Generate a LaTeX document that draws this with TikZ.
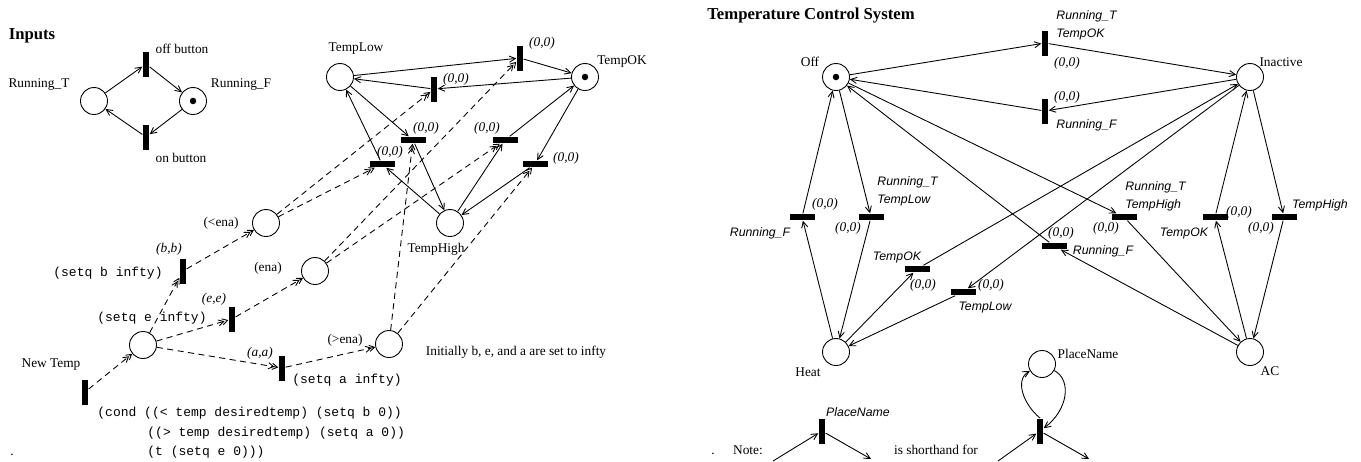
\documentclass[tikz,border=0pt]{standalone}
\usepackage{fontspec}
\setmainfont{Liberation Serif}
\setsansfont{Liberation Sans}
\setmonofont{Liberation Mono}
\usetikzlibrary{arrows.meta}

\begin{document}
\begin{tikzpicture}[x=0.02cm,y=-0.02cm,line width=0.5pt,
	place/.style={circle,draw,minimum size=0.54cm,inner sep=0pt},
	marked/.style={place,path picture={\fill (path picture bounding box.center) circle (0.065cm);}},
	vtrans/.style={rectangle,fill,minimum width=0.13cm,minimum height=0.5cm,inner sep=0pt},
	htrans/.style={rectangle,fill,minimum width=0.5cm,minimum height=0.13cm,inner sep=0pt},
	lbl/.style={inner sep=0pt,font=\fontsize{7.6}{9}\selectfont},
	ttl/.style={inner sep=0pt,font=\fontsize{9.5}{11}\selectfont\bfseries},
	wt/.style={inner sep=0pt,font=\fontsize{7.6}{9}\selectfont\itshape},
	grd/.style={inner sep=0pt,align=left,font=\fontsize{7}{10.2}\selectfont\sffamily\itshape},
	code/.style={inner sep=0pt,font=\fontsize{7.4}{9}\selectfont\ttfamily},
	pnarc/.style={-{Straight Barb[length=3.5pt,width=3.5pt]}},
	enarc/.style={dash pattern=on 3.5pt off 2.5pt,-{Straight Barb[length=3pt,width=3.5pt,sep=-1.5pt]Straight Barb[length=3pt,width=3.5pt]}}]
			\useasboundingbox (0,0) rectangle (1361,461);
			\node[ttl] (ttlA) at (32,36) {Inputs};
			\node[place] (pRunT) at (94,101) {};
			\node[lbl] (lRunT) at (39,85) {Running\_T};
			\node[marked] (pRunF) at (193,101) {};
			\node[lbl] (lRunF) at (241,85) {Running\_F};
			\node[vtrans] (tOffB) at (146,64) {};
			\node[lbl] (lOffB) at (182,49) {off button};
			\node[vtrans] (tOnB) at (146,137) {};
			\node[lbl] (lOnB) at (181,158) {on button};
			\draw[pnarc] (pRunT) -- (tOffB);
			\draw[pnarc] (tOffB) -- (pRunF);
			\draw[pnarc] (pRunF) -- (tOnB);
			\draw[pnarc] (tOnB) -- (pRunT);
			\node[place] (pLow) at (340,77) {};
			\node[lbl] (lLow) at (356,49) {TempLow};
			\node[marked] (pOK) at (585,77) {};
			\node[lbl] (lOK) at (622,61) {TempOK};
			\node[place] (pHigh) at (450,223) {};
			\node[lbl] (lHigh) at (436,249) {TempHigh};
			\node[vtrans] (t1) at (520,58) {};
			\node[wt] (w1) at (542,43) {(0,0)};
			\node[vtrans] (t2) at (434,89) {};
			\node[wt] (w2) at (456,79) {(0,0)};
			\node[htrans] (t3) at (413,140) {};
			\node[wt] (w3) at (426,128) {(0,0)};
			\node[htrans] (t4) at (382,164) {};
			\node[wt] (w4) at (390,152) {(0,0)};
			\node[htrans] (t5) at (505,140) {};
			\node[wt] (w5) at (487,128) {(0,0)};
			\node[htrans] (t6) at (535,164) {};
			\node[wt] (w6) at (566,158) {(0,0)};
			\draw[pnarc] (pLow) -- (t1);
			\draw[pnarc] (t1) -- (pOK);
			\draw[pnarc] (pOK) -- (t2);
			\draw[pnarc] (t2) -- (pLow);
			\draw[pnarc] (pLow) -- (t3);
			\draw[pnarc] (t3) -- (pHigh);
			\draw[pnarc] (pHigh) -- (t4);
			\draw[pnarc] (t4) -- (pLow);
			\draw[pnarc] (pHigh) -- (t5);
			\draw[pnarc] (t5) -- (pOK);
			\draw[pnarc] (pOK) -- (t6);
			\draw[pnarc] (t6) -- (pHigh);
			\node[vtrans] (tNew) at (85,392) {};
			\node[lbl] (lNew) at (51,365) {New Temp};
			\node[code,anchor=west] (c1) at (97,413) {(cond ((< temp desiredtemp) (setq b 0))};
			\node[code,anchor=west] (c2) at (147,433) {((> temp desiredtemp) (setq a 0))};
			\node[code,anchor=west] (c3) at (147,452) {(t (setq e 0)))};
			\node[place] (pIn) at (143,345) {};
			\node[vtrans] (tB) at (183,271) {};
			\node[wt] (wB) at (169,249) {(b,b)};
			\node[code] (cB) at (108,273) {(setq b infty)};
			\node[vtrans] (tE) at (232,319) {};
			\node[wt] (wE) at (214,299) {(e,e)};
			\node[code] (cE) at (152,318) {(setq e infty)};
			\node[vtrans] (tA) at (282,368) {};
			\node[wt] (wA) at (260,353) {(a,a)};
			\node[code] (cA) at (347,380) {(setq a infty)};
			\node[place] (pLt) at (266,223) {};
			\node[lbl] (lLt) at (221,223) {(<ena)};
			\node[place] (pEq) at (315,271) {};
			\node[lbl] (lEq) at (268,268) {(ena)};
			\node[place] (pGt) at (389,344) {};
			\node[lbl] (lGt) at (345,340) {(>ena)};
			\node[lbl] (nInit) at (516,352) {Initially b, e, and a are set to infty};
			\draw[enarc] (tNew) -- (pIn);
			\draw[enarc] (pIn) -- (tB);
			\draw[enarc] (pIn) -- (tE);
			\draw[enarc] (pIn) -- (tA);
			\draw[enarc] (tB) -- (pLt);
			\draw[enarc] (tE) -- (pEq);
			\draw[enarc] (tA) -- (pGt);
			\draw[enarc] (pLt) -- (t2);
			\draw[enarc] (pLt) -- (t4);
			\draw[enarc] (pEq) -- (t1);
			\draw[enarc] (pEq) -- (t5);
			\draw[enarc] (pGt) -- (t3);
			\draw[enarc] (pGt) -- (t6);
			\node[lbl] (dA) at (12,455) {.};
			\node[ttl] (ttlB) at (811,16) {Temperature Control System};
			\node[marked] (pOff) at (836,77) {};
			\node[lbl] (lOff) at (810,62) {Off};
			\node[place] (pIna) at (1250,77) {};
			\node[lbl] (lIna) at (1281,62) {Inactive};
			\node[place] (pHeat) at (836,352) {};
			\node[lbl] (lHeat) at (808,372) {Heat};
			\node[place] (pAC) at (1250,352) {};
			\node[lbl] (lAC) at (1270,371) {AC};
			\node[vtrans] (r1) at (1045,43) {};
			\node[grd,anchor=west] (g1) at (1056,25) {Running\_T\\TempOK};
			\node[wt] (v1) at (1067,63) {(0,0)};
			\node[vtrans] (r2) at (1045,111) {};
			\node[wt] (v2) at (1067,97) {(0,0)};
			\node[grd,anchor=west] (g2) at (1056,125) {Running\_F};
			\node[htrans] (r3) at (802,217) {};
			\node[wt] (v3) at (825,204) {(0,0)};
			\node[grd] (g3) at (760,233) {Running\_F};
			\node[htrans] (r4) at (871,217) {};
			\node[wt] (v4) at (848,228) {(0,0)};
			\node[grd,anchor=west] (g4) at (877,191) {Running\_T\\TempLow};
			\node[htrans] (r5) at (917,269) {};
			\node[grd] (g5) at (897,257) {TempOK};
			\node[wt] (v5) at (923,285) {(0,0)};
			\node[htrans] (r6) at (963,292) {};
			\node[wt] (v6) at (991,285) {(0,0)};
			\node[grd] (g6) at (985,308) {TempLow};
			\node[htrans] (r7) at (1124,217) {};
			\node[grd,anchor=west] (g7) at (1125,196) {Running\_T\\TempHigh};
			\node[wt] (v7) at (1106,228) {(0,0)};
			\node[htrans] (r8) at (1054,246) {};
			\node[wt] (v8) at (1061,233) {(0,0)};
			\node[grd] (g8) at (1103,251) {Running\_F};
			\node[htrans] (r9) at (1215,217) {};
			\node[wt] (v9) at (1239,212) {(0,0)};
			\node[grd] (g9) at (1184,233) {TempOK};
			\node[htrans] (r10) at (1284,217) {};
			\node[wt] (v10) at (1261,228) {(0,0)};
			\node[grd] (g10) at (1320,205) {TempHigh};
			\draw[pnarc] (pOff) -- (r1);
			\draw[pnarc] (r1) -- (pIna);
			\draw[pnarc] (pIna) -- (r2);
			\draw[pnarc] (r2) -- (pOff);
			\draw[pnarc] (pHeat) -- (r3);
			\draw[pnarc] (r3) -- (pOff);
			\draw[pnarc] (pOff) -- (r4);
			\draw[pnarc] (r4) -- (pHeat);
			\draw[pnarc] (pHeat) -- (r5);
			\draw[pnarc] (r5) -- (pIna);
			\draw[pnarc] (pIna) -- (r6);
			\draw[pnarc] (r6) -- (pHeat);
			\draw[pnarc] (pOff) -- (r7);
			\draw[pnarc] (r7) -- (pAC);
			\draw[pnarc] (pAC) -- (r8);
			\draw[pnarc] (r8) -- (pOff);
			\draw[pnarc] (pAC) -- (r9);
			\draw[pnarc] (r9) -- (pIna);
			\draw[pnarc] (pIna) -- (r10);
			\draw[pnarc] (r10) -- (pAC);
			\node[lbl] (dB) at (713,454) {.};
			\node[lbl] (nNote) at (748,450) {Note:};
			\node[vtrans] (sL) at (822,431) {};
			\node[grd] (gL) at (858,412) {PlaceName};
			\coordinate (aL) at (773,461);
			\coordinate (bL) at (871,459);
			\draw[pnarc] (aL) -- (sL);
			\draw[pnarc] (sL) -- (bL);
			\node[lbl] (nShort) at (936,450) {is shorthand for};
			\node[place] (pPN) at (1042,364) {};
			\node[lbl] (lPN) at (1088,354) {PlaceName};
			\node[vtrans] (sR) at (1040,431) {};
			\coordinate (aR) at (998,461);
			\coordinate (bR) at (1089,459);
			\draw[pnarc] (aR) -- (sR);
			\draw[pnarc] (sR) -- (bR);
			\draw[pnarc] (sR.north) .. controls (1024,405) and (1014,380) .. (pPN);
			\draw[pnarc] (pPN) .. controls (1072,380) and (1068,410) .. (sR);
		\end{tikzpicture}
\end{document}
